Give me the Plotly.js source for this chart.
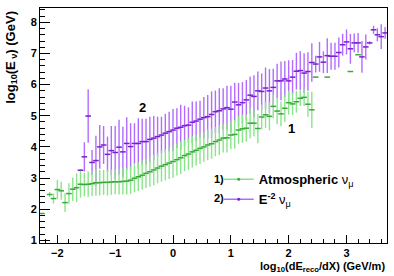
<!DOCTYPE html>
<html>
<head>
<meta charset="utf-8">
<script src="https://cdn.plot.ly/plotly-3.0.1.min.js"></script>
<style>html,body{margin:0;padding:0;background:#fff;}#chart{width:394px;height:276px;}</style>
</head>
<body>
<div id="chart"></div>
<script>
// bin centres of log10(dE_reco/dX)
var binCenter = [-2.267,-2.200,-2.133,-2.067,-2.000,-1.933,-1.867,-1.800,-1.733,-1.667,
-1.600,-1.533,-1.467,-1.400,-1.333,-1.267,-1.200,-1.133,-1.067,-1.000,
-0.933,-0.867,-0.800,-0.733,-0.667,-0.600,-0.533,-0.467,-0.400,-0.333,
-0.267,-0.200,-0.133,-0.067,0.000,0.067,0.133,0.200,0.267,0.333,
0.400,0.467,0.533,0.600,0.667,0.733,0.800,0.867,0.933,1.000,
1.067,1.133,1.200,1.267,1.333,1.400,1.467,1.533,1.600,1.667,
1.733,1.800,1.867,1.933,2.000,2.067,2.133,2.200,2.267,2.333,
2.400,2.467,2.533,2.600,2.667,2.733,2.800,2.867,2.933,3.000,
3.067,3.133,3.200,3.267,3.333,3.400,3.467,3.533,3.600,3.667];

// 1) Atmospheric nu_mu : mean log10(E) and spread
var atmMean = [1.86,null,2.47,2.34,2.63,2.59,2.21,2.50,2.64,2.69,
2.80,2.79,2.80,2.82,2.85,2.85,2.86,2.86,2.87,2.88,
2.88,2.89,2.90,2.93,2.99,3.04,3.09,3.15,3.20,3.26,
3.32,3.38,3.43,3.48,3.53,3.59,3.65,3.72,3.77,3.84,
3.89,3.95,4.00,4.06,4.10,4.17,4.22,4.28,4.29,4.38,
4.40,4.54,4.58,4.60,4.76,4.76,4.59,4.96,5.03,4.98,
5.30,5.15,5.06,5.24,5.42,5.38,5.45,5.56,5.59,5.37,
5.19,6.24,null,null,6.24,null,null,null,null,null,
6.42,null,6.96,null,null,null,null,null,null,null];
var atmSpread = [0,0,0.08,0.16,0.31,0.29,0.30,0.33,0.38,0.46,
0.43,0.38,0.41,0.40,0.42,0.41,0.40,0.42,0.41,0.40,
0.41,0.42,0.43,0.44,0.45,0.46,0.47,0.47,0.48,0.49,
0.49,0.50,0.50,0.51,0.52,0.51,0.52,0.50,0.51,0.50,
0.49,0.50,0.48,0.49,0.48,0.47,0.48,0.46,0.47,0.45,
0.46,0.44,0.45,0.43,0.48,0.42,0.47,0.40,0.42,0.45,
0.38,0.42,0.40,0.44,0.38,0.36,0.35,0.25,0.28,0.40,
0.58,0,0,0,0,0,0,0,0,0,
0,0,0,0,0,0,0,0,0,0];

// 2) E^-2 nu_mu : mean log10(E) and spread
var e2Mean = [null,null,null,null,null,null,null,null,null,null,
3.25,3.68,4.99,3.50,3.56,4.00,4.06,3.76,3.88,3.82,
3.99,3.84,4.11,4.01,4.11,4.11,4.17,4.17,4.24,4.28,
4.33,4.38,4.44,4.49,4.54,4.60,4.63,4.68,4.70,4.79,
4.83,4.89,4.94,4.97,5.04,5.13,5.16,5.22,5.26,5.21,
5.44,5.35,5.42,5.51,5.66,5.62,5.80,5.78,5.89,5.80,
5.91,6.12,6.12,6.18,6.12,6.24,6.43,6.45,6.37,6.42,
6.71,6.66,6.89,6.72,6.93,6.91,6.91,7.03,7.28,7.37,
7.15,7.34,7.34,6.89,7.21,7.34,7.76,7.60,7.54,7.66];
var e2Spread = [0,0,0,0,0,0,0,0,0,0,
0.03,0.47,0.86,0.40,0.80,0.70,0.61,0.57,0.79,0.85,
0.88,0.81,0.84,0.75,0.65,0.81,0.73,0.73,0.73,0.71,
0.64,0.59,0.62,0.64,0.68,0.64,0.72,0.64,0.57,0.67,
0.63,0.59,0.66,0.70,0.74,0.68,0.72,0.66,0.70,0.75,
0.62,0.70,0.66,0.64,0.60,0.68,0.62,0.58,0.66,0.70,
0.60,0.55,0.62,0.58,0.66,0.55,0.59,0.62,0.64,0.62,
0.62,0.27,0.48,0.35,0.56,0.43,0.43,0.48,0.35,0.40,
0.48,0.30,0.32,0.51,0.40,0.05,0.13,0.21,0.40,0.19];

var seriesNames = ['<b>Atmospheric</b> ν<sub>μ</sub>', '<b>E<sup>-2</sup></b> ν<sub>μ</sub>'];
var seriesLabels = ['1)', '2)'];
var curveTags = ['1', '2'];

var green = '#8ae48a', greenDark = '#3aa83a';
var purple = '#b36bff', purpleDark = '#7a1fd0';
var FONT = 'Liberation Sans, Arial, sans-serif';

var traces = [
  { type:'scatter', mode:'markers', x: binCenter, y: e2Mean, showlegend:false, hoverinfo:'skip',
    marker:{symbol:'line-ew', size:4, color:purpleDark, line:{color:purpleDark, width:1.5}},
    error_y:{type:'data', array:e2Spread, symmetric:true, color:purple, thickness:1.4, width:0} },
  { type:'scatter', mode:'markers', x: binCenter, y: atmMean, showlegend:false, hoverinfo:'skip',
    marker:{symbol:'line-ew', size:4, color:greenDark, line:{color:greenDark, width:1.5}},
    error_y:{type:'data', array:atmSpread, symmetric:true, color:green, thickness:1.4, width:0} },
  // legend entries
  { type:'scatter', mode:'lines+markers', x:[null], y:[null], name: seriesNames[0],
    line:{color:green, width:1.5}, marker:{size:3, color:greenDark} },
  { type:'scatter', mode:'lines+markers', x:[null], y:[null], name: seriesNames[1],
    line:{color:purple, width:1.5}, marker:{size:3, color:purpleDark} }
];

var layout = {
  width:394, height:276,
  margin:{l:40, r:7, t:8, b:33},
  paper_bgcolor:'#fff', plot_bgcolor:'#fff',
  font:{family:FONT, color:'#000'},
  showlegend:true,
  legend:{x:0.515, y:0.335, xanchor:'left', yanchor:'top', bgcolor:'rgba(0,0,0,0)',
          font:{family:FONT, size:13, color:'#000'}, tracegroupgap:0, itemwidth:30},
  xaxis:{range:[-2.3,3.7], tickvals:[-2,-1,0,1,2,3], ticks:'inside', ticklen:8, tickwidth:1, tickcolor:'#000',
         showline:true, linecolor:'#000', linewidth:1, mirror:true, showgrid:false, zeroline:false,
         tickfont:{family:FONT, size:11, weight:'bold', color:'#000'},
         minor:{ticks:'inside', ticklen:4, tickwidth:1, tickcolor:'#000', dtick:0.2, tick0:0, showgrid:false}},
  yaxis:{range:[0.913,8.46], tickvals:[1,2,3,4,5,6,7,8], ticks:'inside', ticklen:10, tickwidth:1, tickcolor:'#000',
         showline:true, linecolor:'#000', linewidth:1, mirror:true, showgrid:false, zeroline:false,
         tickfont:{family:FONT, size:11, weight:'bold', color:'#000'},
         minor:{ticks:'inside', ticklen:5, tickwidth:1, tickcolor:'#000', dtick:0.2, tick0:0, showgrid:false}},
  annotations:[
    {xref:'paper', yref:'paper', x:1, y:-0.141, xanchor:'right', yanchor:'bottom', showarrow:false,
     text:'<b>log<sub>10</sub>(dE<sub>reco</sub>/dX) (GeV/m)</b>', font:{family:FONT, size:11, color:'#000'}},
    {xref:'paper', yref:'paper', x:-0.083, y:0.995, xanchor:'center', yanchor:'top', showarrow:false, textangle:-90,
     text:'<b>log<sub>10</sub>(E<sub> ν</sub>) (GeV)</b>', font:{family:FONT, size:13, color:'#000'}},
    {xref:'x', yref:'y', x:-0.52, y:5.28, showarrow:false, text:'<b>'+curveTags[1]+'</b>', font:{family:FONT, size:13, color:'#000'}},
    {xref:'x', yref:'y', x:2.04, y:4.60, showarrow:false, text:'<b>'+curveTags[0]+'</b>', font:{family:FONT, size:13, color:'#000'}},
    {xref:'paper', yref:'paper', x:0.537, y:0.272, xanchor:'right', yanchor:'middle', showarrow:false,
     text:'<b>'+seriesLabels[0]+'</b>', font:{family:FONT, size:11, color:'#000'}},
    {xref:'paper', yref:'paper', x:0.537, y:0.191, xanchor:'right', yanchor:'middle', showarrow:false,
     text:'<b>'+seriesLabels[1]+'</b>', font:{family:FONT, size:11, color:'#000'}}
  ]
};

Plotly.newPlot('chart', traces, layout, {displayModeBar:false, staticPlot:true});
</script>
</body>
</html>
